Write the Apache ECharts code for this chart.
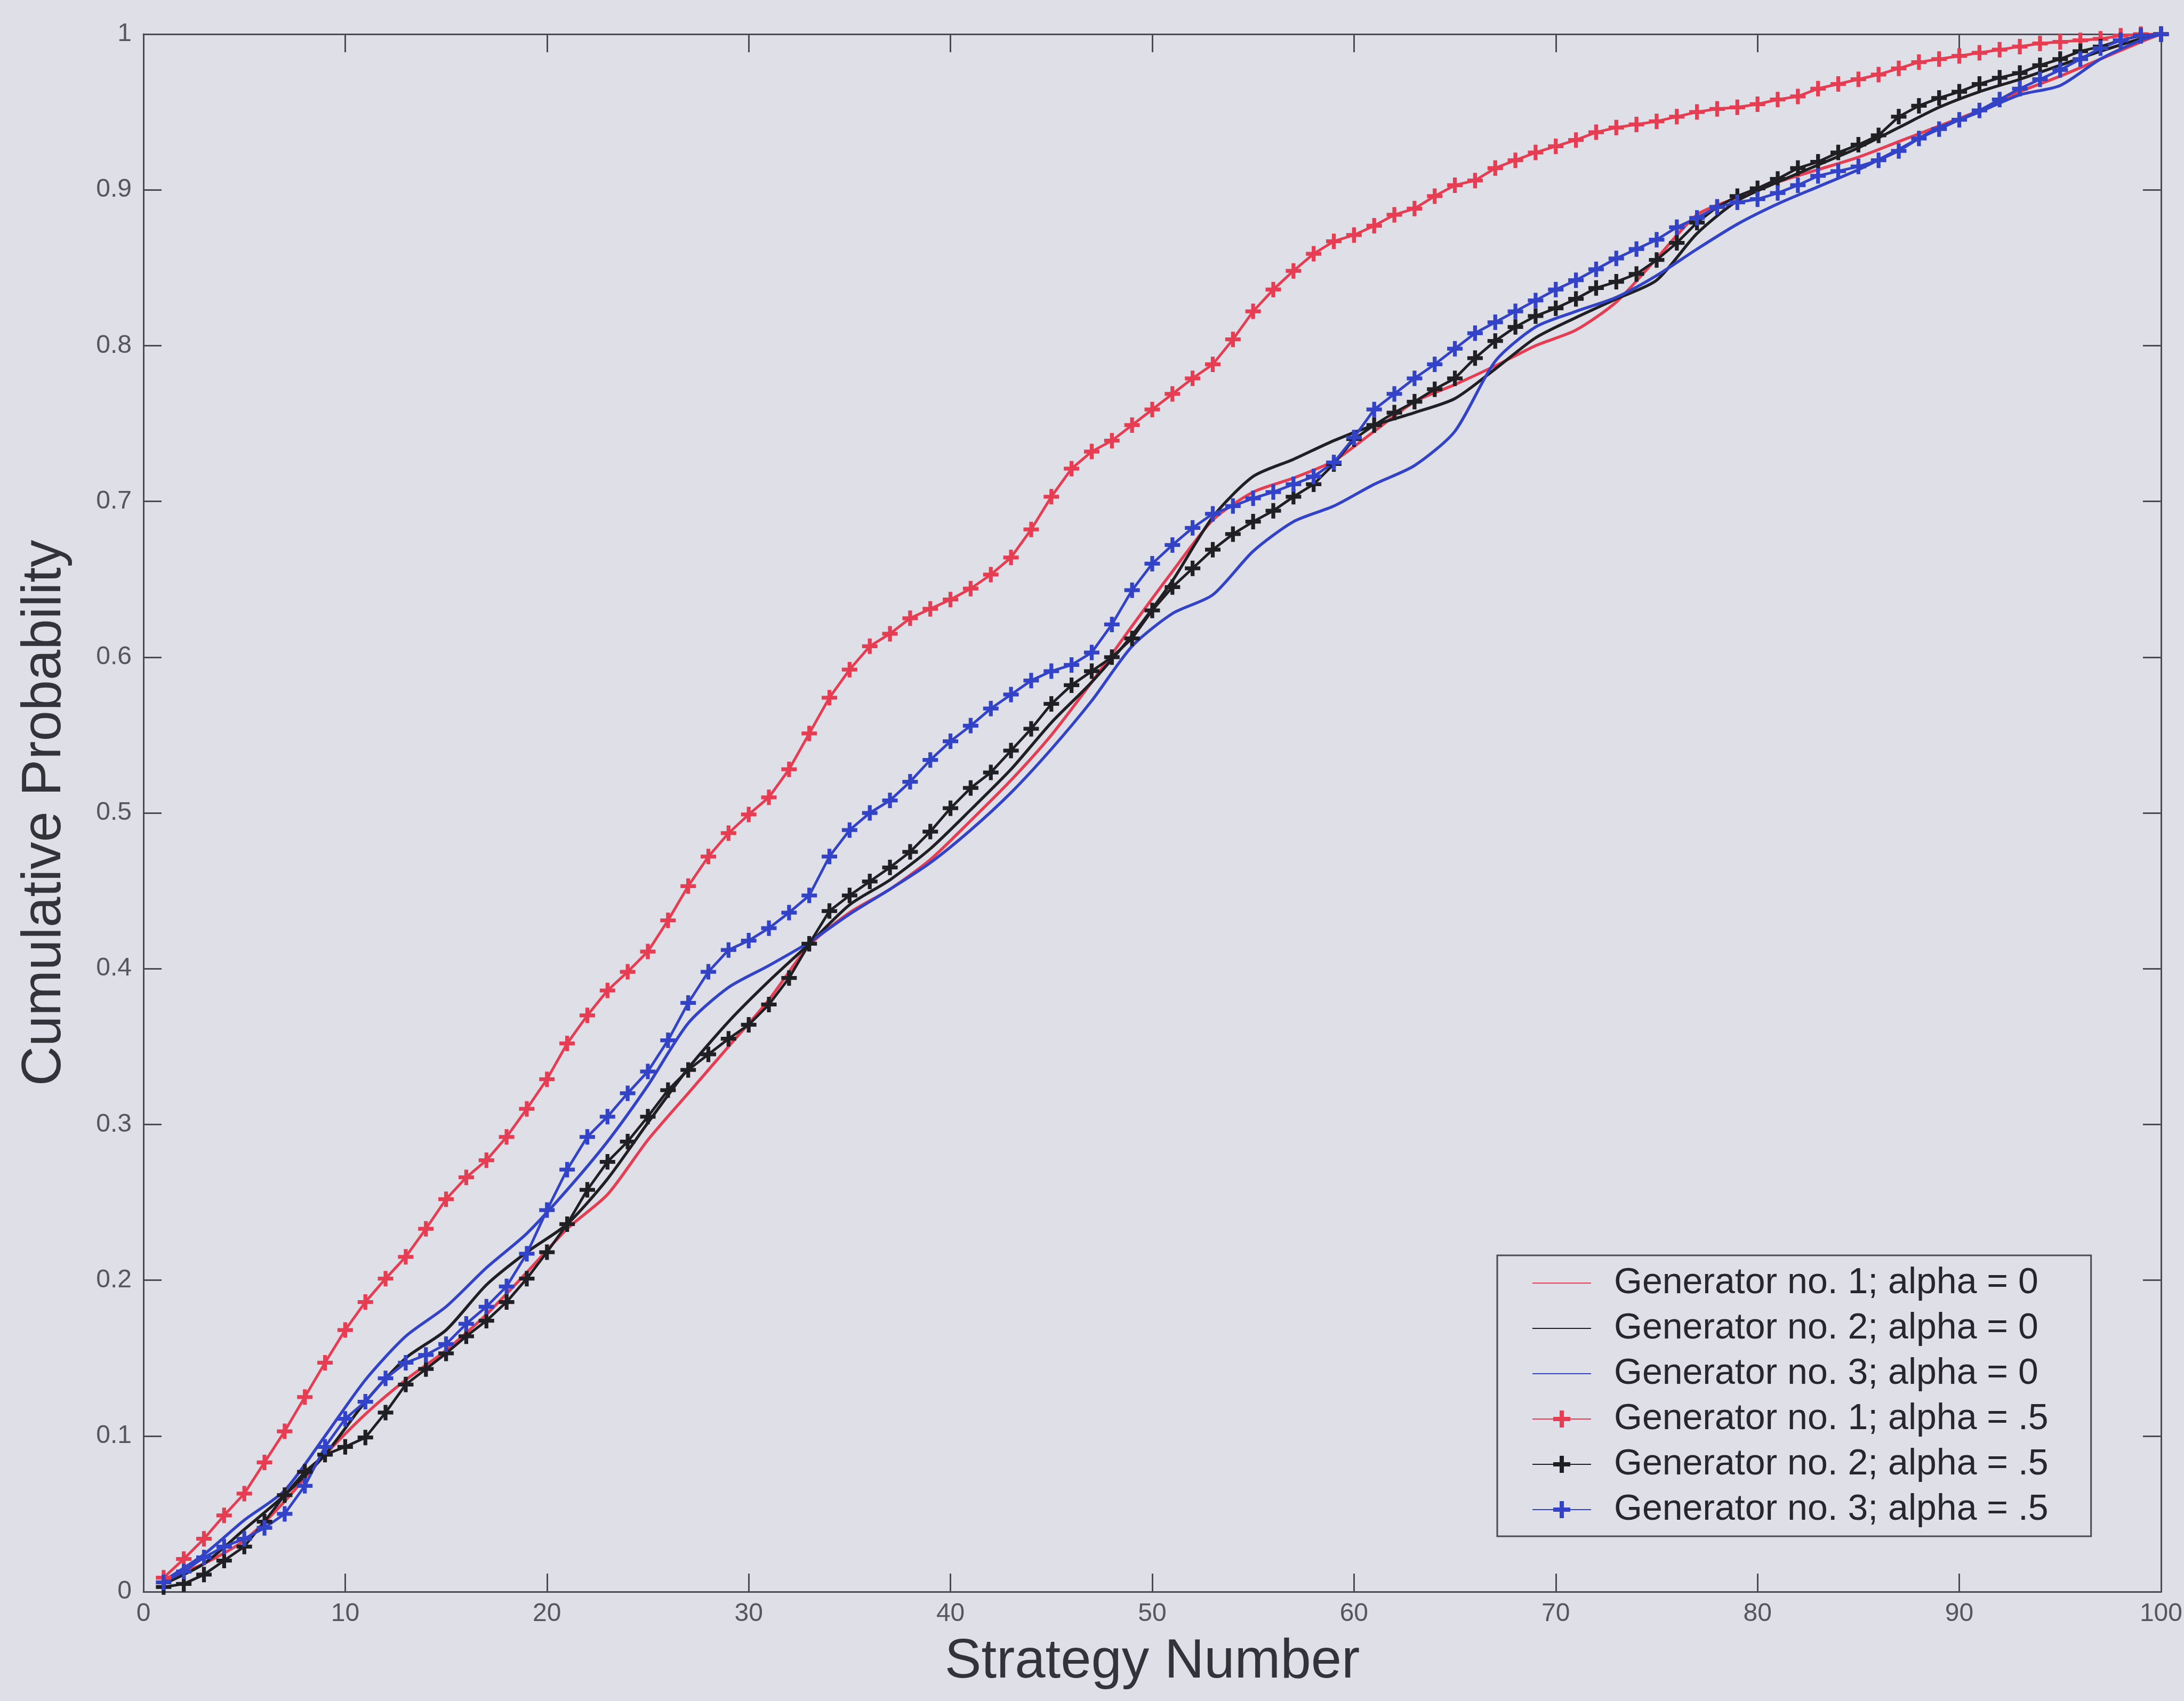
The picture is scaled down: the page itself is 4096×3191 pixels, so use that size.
<!DOCTYPE html>
<html>
<head>
<meta charset="utf-8">
<script src="https://cdn.jsdelivr.net/npm/echarts@6/dist/echarts.min.js"></script>
<style>
  html, body { margin: 0; padding: 0; background: #dedfe7; }
  #chart-cdf { width: 4096px; height: 3191px; }
</style>
</head>
<body>
<div id="chart-cdf"></div>
<script>
  // strategy numbers (x) for the marker series
  var strategyNumbers = [1, 2, 3, 4, 5, 6, 7, 8, 9, 10, 11, 12, 13, 14, 15, 16, 17, 18, 19, 20,
    21, 22, 23, 24, 25, 26, 27, 28, 29, 30, 31, 32, 33, 34, 35, 36, 37, 38, 39, 40,
    41, 42, 43, 44, 45, 46, 47, 48, 49, 50, 51, 52, 53, 54, 55, 56, 57, 58, 59, 60,
    61, 62, 63, 64, 65, 66, 67, 68, 69, 70, 71, 72, 73, 74, 75, 76, 77, 78, 79, 80,
    81, 82, 83, 84, 85, 86, 87, 88, 89, 90, 91, 92, 93, 94, 95, 96, 97, 98, 99, 100]
  // strategy numbers read for the plain lines
  var lineStrategies = [1, 3, 5, 7, 9, 11, 13, 15, 17, 19, 21, 23, 25, 27, 29, 31, 33, 35, 37, 39,
    41, 43, 45, 47, 49, 51, 53, 55, 57, 59, 61, 63, 65, 67, 69, 71, 73, 75, 77, 79,
    81, 83, 85, 87, 89, 91, 93, 95, 97, 99, 100]

  // alpha = 0
  var gen1Alpha0 = [0.008, 0.018, 0.033, 0.058, 0.088, 0.114, 0.136, 0.155, 0.178, 0.205,
    0.233, 0.255, 0.290, 0.320, 0.350, 0.380, 0.415, 0.436, 0.451, 0.470,
    0.495, 0.521, 0.550, 0.584, 0.620, 0.655, 0.688, 0.706, 0.715, 0.726,
    0.745, 0.764, 0.775, 0.787, 0.800, 0.810, 0.828, 0.856, 0.884, 0.895,
    0.905, 0.913, 0.921, 0.931, 0.941, 0.951, 0.963, 0.973, 0.984, 0.995, 1.000]
  var gen2Alpha0 = [0.005, 0.018, 0.040, 0.062, 0.088, 0.122, 0.150, 0.168, 0.197, 0.218,
    0.236, 0.265, 0.301, 0.336, 0.366, 0.392, 0.416, 0.441, 0.457, 0.477,
    0.502, 0.528, 0.558, 0.584, 0.614, 0.649, 0.690, 0.716, 0.727, 0.739,
    0.749, 0.757, 0.766, 0.785, 0.805, 0.818, 0.830, 0.842, 0.872, 0.893,
    0.905, 0.916, 0.927, 0.940, 0.953, 0.963, 0.971, 0.980, 0.989, 0.997, 1.000]
  var gen3Alpha0 = [0.007, 0.024, 0.046, 0.065, 0.100, 0.136, 0.164, 0.183, 0.208, 0.230,
    0.258, 0.289, 0.325, 0.365, 0.388, 0.402, 0.417, 0.435, 0.451, 0.468,
    0.489, 0.513, 0.541, 0.572, 0.607, 0.628, 0.640, 0.668, 0.687, 0.697,
    0.711, 0.723, 0.745, 0.790, 0.812, 0.822, 0.831, 0.845, 0.862, 0.878,
    0.891, 0.902, 0.913, 0.926, 0.940, 0.950, 0.961, 0.967, 0.984, 0.996, 1.000]

  // alpha = .5
  var gen1Alpha5 = [0.009, 0.021, 0.034, 0.049, 0.063, 0.083, 0.103, 0.125, 0.147, 0.168,
    0.186, 0.201, 0.215, 0.233, 0.252, 0.266, 0.277, 0.292, 0.310, 0.329,
    0.352, 0.370, 0.386, 0.398, 0.411, 0.431, 0.453, 0.472, 0.487, 0.499,
    0.510, 0.528, 0.551, 0.574, 0.592, 0.607, 0.615, 0.625, 0.631, 0.637,
    0.644, 0.653, 0.664, 0.682, 0.703, 0.721, 0.732, 0.739, 0.749, 0.759,
    0.769, 0.779, 0.788, 0.804, 0.822, 0.836, 0.848, 0.859, 0.867, 0.871,
    0.877, 0.884, 0.888, 0.896, 0.903, 0.906, 0.914, 0.919, 0.924, 0.928,
    0.932, 0.937, 0.940, 0.942, 0.944, 0.947, 0.950, 0.952, 0.953, 0.955,
    0.958, 0.960, 0.965, 0.968, 0.971, 0.974, 0.978, 0.982, 0.984, 0.986,
    0.988, 0.990, 0.992, 0.994, 0.995, 0.996, 0.997, 0.999, 1.000, 1.000]
  var gen2Alpha5 = [0.003, 0.005, 0.011, 0.020, 0.029, 0.045, 0.062, 0.077, 0.088, 0.093,
    0.099, 0.115, 0.133, 0.143, 0.153, 0.164, 0.174, 0.186, 0.201, 0.218,
    0.236, 0.258, 0.276, 0.289, 0.305, 0.322, 0.335, 0.345, 0.355, 0.364,
    0.377, 0.394, 0.416, 0.437, 0.447, 0.456, 0.465, 0.475, 0.488, 0.503,
    0.516, 0.526, 0.540, 0.554, 0.570, 0.582, 0.591, 0.600, 0.612, 0.630,
    0.645, 0.657, 0.669, 0.679, 0.687, 0.694, 0.703, 0.711, 0.724, 0.740,
    0.749, 0.757, 0.764, 0.772, 0.779, 0.792, 0.803, 0.812, 0.819, 0.824,
    0.830, 0.837, 0.841, 0.846, 0.855, 0.866, 0.879, 0.889, 0.896, 0.901,
    0.907, 0.914, 0.918, 0.924, 0.929, 0.935, 0.947, 0.954, 0.959, 0.963,
    0.968, 0.972, 0.975, 0.980, 0.984, 0.989, 0.992, 0.996, 0.999, 1.000]
  var gen3Alpha5 = [0.006, 0.013, 0.022, 0.029, 0.034, 0.041, 0.050, 0.068, 0.093, 0.111,
    0.122, 0.137, 0.147, 0.152, 0.159, 0.172, 0.183, 0.196, 0.217, 0.245,
    0.271, 0.292, 0.305, 0.320, 0.334, 0.354, 0.378, 0.398, 0.412, 0.418,
    0.426, 0.436, 0.447, 0.472, 0.489, 0.500, 0.508, 0.520, 0.534, 0.546,
    0.556, 0.567, 0.576, 0.585, 0.591, 0.595, 0.603, 0.621, 0.643, 0.660,
    0.672, 0.683, 0.692, 0.697, 0.702, 0.706, 0.711, 0.716, 0.725, 0.741,
    0.759, 0.769, 0.779, 0.788, 0.798, 0.808, 0.815, 0.822, 0.829, 0.836,
    0.842, 0.849, 0.856, 0.862, 0.868, 0.876, 0.882, 0.889, 0.892, 0.894,
    0.898, 0.903, 0.909, 0.912, 0.915, 0.919, 0.925, 0.933, 0.939, 0.945,
    0.951, 0.958, 0.965, 0.971, 0.977, 0.984, 0.991, 0.996, 0.999, 1.000]

  var seriesNames = ['Generator no. 1; alpha = 0', 'Generator no. 2; alpha = 0', 'Generator no. 3; alpha = 0',
    'Generator no. 1; alpha = .5', 'Generator no. 2; alpha = .5', 'Generator no. 3; alpha = .5']

  var RED = '#e63d52'
  var BLACK = '#1f1f24'
  var BLUE = '#3343c8'
  var AXIS = '#4a4b55'
  var FONT = 'Liberation Sans, Arial, Helvetica, sans-serif'
  // '+' marker like matlab
  var PLUS = 'path://M7.5,0H12.5V7.5H20V12.5H12.5V20H7.5V12.5H0V7.5H7.5Z'

  function pairs (xs, ys) {
    return ys.map(function (v, i) { return [xs[i], v] })
  }

  function plainLine (name, color, ys) {
    return {
      name: name,
      type: 'line',
      data: pairs(lineStrategies, ys),
      symbol: 'none',
      smooth: 0.25,
      lineStyle: { color: color, width: 5.5 },
      itemStyle: { color: color },
      z: 2
    }
  }

  function markedLine (name, color, ys) {
    return {
      name: name,
      type: 'line',
      data: pairs(strategyNumbers, ys),
      symbol: PLUS,
      symbolSize: 29,
      showAllSymbol: true,
      lineStyle: { color: color, width: 5 },
      itemStyle: { color: color },
      z: 3
    }
  }

  // legend: plain lines get no marker
  var legendData = seriesNames.map(function (n, i) {
    return i < 3 ? { name: n, itemStyle: { opacity: 0 } } : { name: n }
  })

  var chartCdf = echarts.init(document.getElementById('chart-cdf'))
  chartCdf.setOption({
    animation: false,
    backgroundColor: '#dedfe7',
    grid: { left: 269, right: 43, top: 64, bottom: 205 },
    legend: {
      orient: 'vertical',
      left: 2808,
      top: 2355,
      data: legendData,
      selectedMode: false,
      itemWidth: 110,
      itemHeight: 40,
      itemGap: 17,
      padding: [18, 80, 16, 65],
      borderColor: AXIS,
      borderWidth: 3,
      backgroundColor: '#dedfe7',
      textStyle: {
        fontFamily: FONT,
        fontSize: 68,
        lineHeight: 68,
        color: '#26262c',
        padding: [0, 0, 0, 38]
      }
    },
    xAxis: [
      {
        type: 'value',
        min: 0,
        max: 100,
        interval: 10,
        name: 'Strategy Number',
        nameLocation: 'middle',
        nameGap: 81,
        nameTextStyle: { fontFamily: FONT, fontSize: 103, color: '#33343a' },
        axisLine: { lineStyle: { color: AXIS, width: 3 } },
        axisTick: { inside: true, length: 34, lineStyle: { color: AXIS, width: 3 } },
        axisLabel: { fontFamily: FONT, fontSize: 48, color: '#55565e', margin: 18 },
        splitLine: { show: false }
      },
      {
        type: 'value',
        position: 'top',
        min: 0,
        max: 100,
        interval: 10,
        axisLine: { onZero: false, lineStyle: { color: AXIS, width: 3 } },
        axisTick: { inside: true, length: 34, lineStyle: { color: AXIS, width: 3 } },
        axisLabel: { show: false },
        splitLine: { show: false }
      }
    ],
    yAxis: [
      {
        type: 'value',
        min: 0,
        max: 1,
        interval: 0.1,
        name: 'Cumulative Probability',
        nameLocation: 'middle',
        nameGap: 133,
        nameTextStyle: { fontFamily: FONT, fontSize: 103, color: '#33343a' },
        axisLine: { show: true, lineStyle: { color: AXIS, width: 3 } },
        axisTick: { show: true, inside: true, length: 34, lineStyle: { color: AXIS, width: 3 } },
        axisLabel: { fontFamily: FONT, fontSize: 48, color: '#55565e', margin: 22 },
        splitLine: { show: false }
      },
      {
        type: 'value',
        position: 'right',
        min: 0,
        max: 1,
        interval: 0.1,
        axisLine: { show: true, onZero: false, lineStyle: { color: AXIS, width: 3 } },
        axisTick: { show: true, inside: true, length: 34, lineStyle: { color: AXIS, width: 3 } },
        axisLabel: { show: false },
        splitLine: { show: false }
      }
    ],
    series: [
      plainLine(seriesNames[0], RED, gen1Alpha0),
      plainLine(seriesNames[1], BLACK, gen2Alpha0),
      plainLine(seriesNames[2], BLUE, gen3Alpha0),
      markedLine(seriesNames[3], RED, gen1Alpha5),
      markedLine(seriesNames[4], BLACK, gen2Alpha5),
      markedLine(seriesNames[5], BLUE, gen3Alpha5)
    ]
  })
</script>
</body>
</html>
